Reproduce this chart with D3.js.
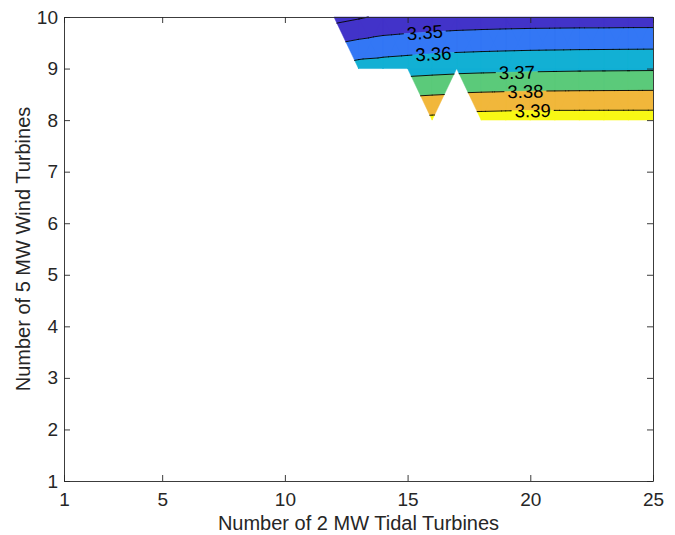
<!DOCTYPE html>
<html>
<head>
<meta charset="utf-8">
<script src="https://cdn.jsdelivr.net/npm/d3@7"></script>
<style>
  html, body { margin: 0; padding: 0; background: #fff; }
  svg { display: block; }
  text { font-family: "Liberation Sans", Arial, Helvetica, sans-serif; fill: #262626; }
</style>
</head>
<body>
<svg id="chart" width="675" height="535"></svg>
<script>
// ---- data ----
const xValues = d3.range(1, 26);          // 2 MW tidal turbines: 1..25
const yValues = d3.range(1, 11);          // 5 MW wind turbines: 1..10
const dataX = [12, 13, 14, 15, 16, 17, 18, 19, 20, 21, 22, 23, 24, 25];
const row10 = [3.3367, 3.3390, 3.3415, 3.3425, 3.3433, 3.3439, 3.3443, 3.3446, 3.3448, 3.3449, 3.3450, 3.3450, 3.3451, 3.3451];
const row9  = [null,   3.3644, 3.3652, 3.3660, 3.3667, 3.3673, 3.3677, 3.3680, 3.3683, 3.3685, 3.3687, 3.3688, 3.3689, 3.3690];
const row8  = [null,   null,   null,   null,   3.3925, null,   3.3945, 3.3948, 3.3950, 3.3950, 3.3950, 3.3950, 3.3950, 3.3950];
const levels = [3.34, 3.35, 3.36, 3.37, 3.38, 3.39];
const bandColors = ["#4233c9", "#4233c9", "#3377f5", "#12b0d4", "#5bca7a", "#f1b73b", "#f8f815"];
const labelLevels = [3.35, 3.36, 3.37, 3.38, 3.39];
const labelXs = [15.7, 16.05, 19.45, 19.8, 20.1];
const xTicks = [1, 5, 10, 15, 20, 25];
const yTicks = [1, 2, 3, 4, 5, 6, 7, 8, 9, 10];

// ---- grid (NaN where no data) ----
const rowsByY = {8: row8, 9: row9, 10: row10};
const Z = yValues.map(yv => xValues.map(xv => {
  const r = rowsByY[yv];
  if (!r) return null;
  const i = dataX.indexOf(xv);
  return i < 0 ? null : r[i];
}));

const svg = d3.select("#chart");
const L = 64, R = 653, T = 17, B = 481;
const x = d3.scaleLinear().domain([1, 25]).range([L, R]);
const y = d3.scaleLinear().domain([1, 10]).range([B, T]);

// ---- triangulate ----
const tris = [];
for (let j = 0; j < yValues.length - 1; j++) {
  for (let i = 0; i < xValues.length - 1; i++) {
    const c = [
      {x: xValues[i],     y: yValues[j],     v: Z[j][i]},
      {x: xValues[i + 1], y: yValues[j],     v: Z[j][i + 1]},
      {x: xValues[i + 1], y: yValues[j + 1], v: Z[j + 1][i + 1]},
      {x: xValues[i],     y: yValues[j + 1], v: Z[j + 1][i]}
    ];
    const valid = c.filter(p => p.v !== null);
    if (valid.length === 4) {
      const ctr = {x: d3.mean(c, p => p.x), y: d3.mean(c, p => p.y), v: d3.mean(c, p => p.v)};
      for (let k = 0; k < 4; k++) tris.push([c[k], c[(k + 1) % 4], ctr]);
    } else if (valid.length === 3) {
      tris.push(valid);
    }
  }
}

// clip polygon by v >= t (sign=1) or v <= t (sign=-1)
function clip(poly, t, sign) {
  const out = [];
  for (let k = 0; k < poly.length; k++) {
    const a = poly[k], b = poly[(k + 1) % poly.length];
    const ina = sign * (a.v - t) >= 0, inb = sign * (b.v - t) >= 0;
    if (ina) out.push(a);
    if (ina !== inb) {
      const s = (t - a.v) / (b.v - a.v);
      out.push({x: a.x + s * (b.x - a.x), y: a.y + s * (b.y - a.y), v: t});
    }
  }
  return out;
}

const bounds = [-Infinity, ...levels, Infinity];
const gFill = svg.append("g");
for (let b = 0; b < bounds.length - 1; b++) {
  let d = "";
  for (const tri of tris) {
    let p = tri;
    if (isFinite(bounds[b])) p = clip(p, bounds[b], 1);
    if (p.length >= 3 && isFinite(bounds[b + 1])) p = clip(p, bounds[b + 1], -1);
    if (p.length >= 3) {
      d += "M" + p.map(q => x(q.x).toFixed(2) + "," + y(q.y).toFixed(2)).join("L") + "Z";
    }
  }
  if (d) gFill.append("path").attr("d", d).attr("fill", bandColors[b])
    .attr("stroke", bandColors[b]).attr("stroke-width", 0.5).attr("stroke-linejoin", "round");
}

// ---- contour segments ----
function segments(level) {
  const segs = [];
  for (const tri of tris) {
    const pts = [];
    for (let k = 0; k < 3; k++) {
      const a = tri[k], b = tri[(k + 1) % 3];
      if ((a.v - level) * (b.v - level) < 0) {
        const s = (level - a.v) / (b.v - a.v);
        pts.push({x: a.x + s * (b.x - a.x), y: a.y + s * (b.y - a.y)});
      }
    }
    if (pts.length === 2) segs.push(pts);
  }
  return segs;
}

// ---- labels ----
const labelInfo = [];
labelLevels.forEach((lv, idx) => {
  const lx = labelXs[idx];
  const segs = segments(lv);
  let best = null;
  for (const s of segs) {
    const [a, b] = s;
    const lo = Math.min(a.x, b.x), hi = Math.max(a.x, b.x);
    if (lx >= lo && lx <= hi && hi > lo) {
      const t = (lx - a.x) / (b.x - a.x);
      const py = a.y + t * (b.y - a.y);
      const ang = Math.atan2(y(b.y) - y(a.y), x(b.x) - x(a.x)) * 180 / Math.PI;
      best = {px: x(lx), py: y(py), ang: (ang > 90 || ang < -90) ? ang - 180 * Math.sign(ang) : ang};
    }
  }
  if (best) labelInfo.push({level: lv, ...best});
});

const defs = svg.append("defs");
const mask = defs.append("mask").attr("id", "lblmask").attr("maskUnits", "userSpaceOnUse")
  .attr("x", 0).attr("y", 0).attr("width", 675).attr("height", 535);
mask.append("rect").attr("width", 675).attr("height", 535).attr("fill", "white");

const lblSize = 18.5;
const gLbl = svg.append("g");
labelInfo.forEach(li => {
  const txt = d3.format(".2f")(li.level);
  const t = gLbl.append("text")
    .attr("transform", `translate(${li.px},${li.py}) rotate(${li.ang})`)
    .attr("text-anchor", "middle").attr("dy", "0.36em")
    .style("font-size", lblSize + "px").style("fill", "#000")
    .text(txt);
  const w = t.node().getComputedTextLength();
  mask.append("rect")
    .attr("transform", `translate(${li.px},${li.py}) rotate(${li.ang})`)
    .attr("x", -w / 2 - 3).attr("y", -lblSize * 0.45).attr("width", w + 6).attr("height", lblSize * 0.9)
    .attr("fill", "black");
});

const gLines = svg.insert("g", () => gLbl.node()).attr("mask", "url(#lblmask)");
levels.forEach(lv => {
  const d = segments(lv).map(s => `M${x(s[0].x).toFixed(2)},${y(s[0].y).toFixed(2)}L${x(s[1].x).toFixed(2)},${y(s[1].y).toFixed(2)}`).join("");
  if (d) gLines.append("path").attr("d", d).attr("fill", "none")
    .attr("stroke", "#000").attr("stroke-width", 0.9).attr("stroke-linecap", "round");
});

// ---- axes ----
const axisColor = "#262626";
const fs = 19;
const titleSize = 20;
function styleAxis(g) {
  g.attr("font-family", null).attr("font-size", null);
  g.selectAll("path.domain").attr("stroke", axisColor).attr("stroke-width", 0.9);
  g.selectAll(".tick line").attr("stroke", axisColor).attr("stroke-width", 0.9);
  g.selectAll(".tick text").style("font-size", fs + "px").style("fill", axisColor);
}
svg.append("g").attr("transform", `translate(0,${B})`)
  .call(d3.axisBottom(x).tickValues(xTicks).tickFormat(d3.format("d")).tickSizeInner(-6).tickSizeOuter(0).tickPadding(12))
  .call(styleAxis);
svg.append("g").attr("transform", `translate(${L},0)`)
  .call(d3.axisLeft(y).tickValues(yTicks).tickFormat(d3.format("d")).tickSizeInner(-6).tickSizeOuter(0).tickPadding(6))
  .call(styleAxis);
svg.append("g").attr("transform", `translate(0,${T})`)
  .call(d3.axisTop(x).tickValues(xTicks).tickFormat("").tickSizeInner(-6).tickSizeOuter(0))
  .call(styleAxis);
svg.append("g").attr("transform", `translate(${R},0)`)
  .call(d3.axisRight(y).tickValues(yTicks).tickFormat("").tickSizeInner(-6).tickSizeOuter(0))
  .call(styleAxis);

// ---- axis titles ----
svg.append("text").attr("x", (L + R) / 2).attr("y", 530).attr("text-anchor", "middle")
  .style("font-size", titleSize + "px").text("Number of 2 MW Tidal Turbines");
svg.append("text").attr("transform", `translate(30,${(T + B) / 2}) rotate(-90)`).attr("text-anchor", "middle")
  .style("font-size", titleSize + "px").text("Number of 5 MW Wind Turbines");
</script>
</body>
</html>
